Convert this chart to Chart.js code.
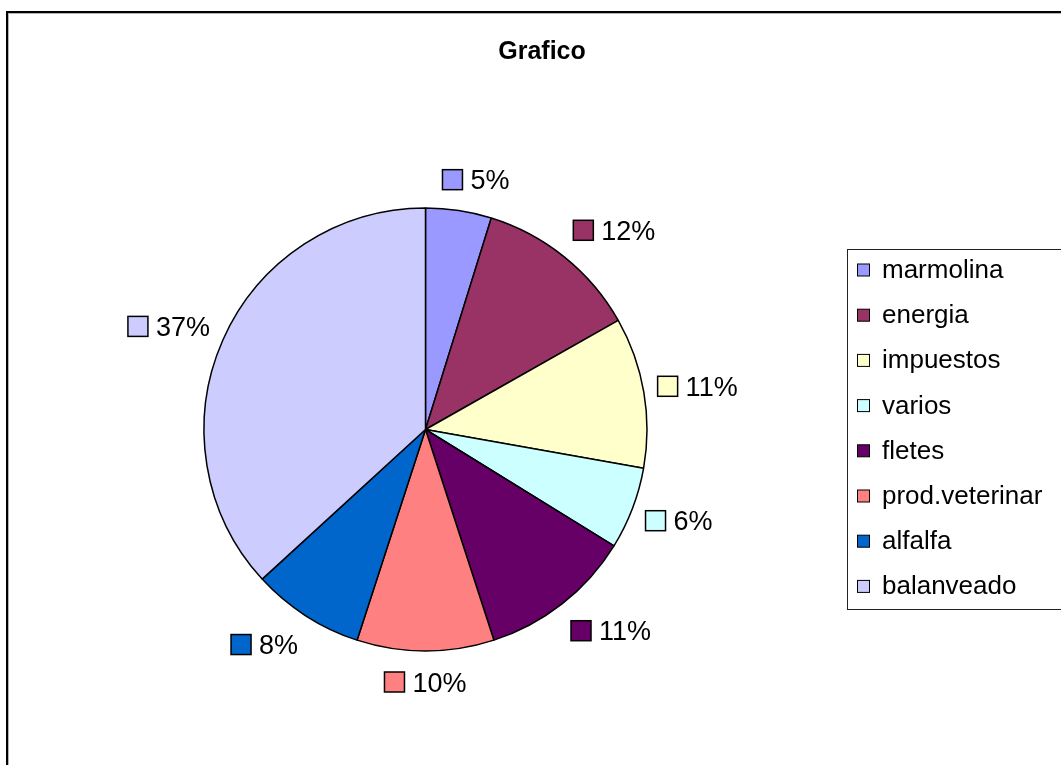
<!DOCTYPE html>
<html>
<head>
<meta charset="utf-8">
<title>Grafico</title>
<script src="https://cdn.jsdelivr.net/npm/chart.js@4.4.1/dist/chart.umd.min.js"></script>
<style>
  html, body { margin: 0; padding: 0; background: #fff; overflow: hidden; }
  #chart { display: block; }
</style>
</head>
<body>
<canvas id="chart" width="1061" height="765"></canvas>
<script>
/* ── Data ─────────────────────────────────────────── */
const categories  = ['marmolina', 'energia', 'impuestos', 'varios', 'fletes', 'prod.veterinar', 'alfalfa', 'balanveado'];
const shares      = [4.8, 12.0, 11.0, 6.0, 11.2, 10.0, 8.2, 36.8];
const sliceColors = ['#9999FF', '#993366', '#FFFFCC', '#CCFFFF', '#660066', '#FF8080', '#0066CC', '#CCCCFF'];
const chartTitle  = 'Grafico';

const FONT = '"Liberation Sans", Arial, sans-serif';
const clamp = (v, lo, hi) => Math.max(lo, Math.min(hi, v));

/* ── Frame + title (Excel style chart area) ───────── */
const framePlugin = {
  id: 'frame',
  beforeDraw(chart) {
    const ctx = chart.ctx;
    ctx.save();
    ctx.fillStyle = '#fff';
    ctx.fillRect(0, 0, chart.width, chart.height);
    ctx.strokeStyle = '#b4b4b4';
    ctx.lineWidth = 1;
    ctx.strokeRect(8.5, 13.5, chart.width + 50, chart.height + 50);
    ctx.strokeStyle = '#000';
    ctx.lineWidth = 2;
    ctx.strokeRect(7, 12, chart.width + 50, chart.height + 50);

    ctx.fillStyle = '#000';
    ctx.font = 'bold 25px ' + FONT;
    ctx.textAlign = 'center';
    ctx.textBaseline = 'alphabetic';
    ctx.fillText(chartTitle, 542, 59);
    ctx.restore();
  }
};

/* ── Percent labels with colour keys outside the pie ─ */
const outsideLabels = {
  id: 'outsideLabels',
  afterDatasetsDraw(chart) {
    const ctx = chart.ctx;
    const meta = chart.getDatasetMeta(0);
    const values = chart.data.datasets[0].data;
    const total = values.reduce((a, b) => a + b, 0);
    const gap = 14, key = 20, keyGap = 8, halfH = 17;

    ctx.save();
    ctx.font = '27px ' + FONT;
    ctx.textBaseline = 'alphabetic';
    ctx.textAlign = 'left';
    meta.data.forEach((arc, i) => {
      const p = arc.getProps(['x', 'y', 'startAngle', 'endAngle', 'outerRadius'], true);
      const mid = (p.startAngle + p.endAngle) / 2;
      const ux = Math.cos(mid), uy = Math.sin(mid);
      const text = Math.round(values[i] / total * 100) + '%';
      const w = key + keyGap + ctx.measureText(text).width;
      // anchor just outside the rim, box pushed away from the pie
      const cx = p.x + ux * (p.outerRadius + gap) + clamp(ux * 3, -1, 1) * w / 2;
      const cy = p.y + uy * (p.outerRadius + gap) + clamp(uy * 1.2, -1, 1) * halfH;
      const left = cx - w / 2;

      ctx.fillStyle = sliceColors[i];
      ctx.fillRect(left, cy - key / 2, key, key);
      ctx.strokeStyle = '#000';
      ctx.lineWidth = 1.5;
      ctx.strokeRect(left, cy - key / 2, key, key);

      ctx.fillStyle = '#000';
      ctx.fillText(text, left + key + keyGap, cy + 9.5);
    });
    ctx.restore();
  }
};

/* ── Boxed legend on the right ────────────────────── */
const boxLegend = {
  id: 'boxLegend',
  afterDraw(chart) {
    const ctx = chart.ctx;
    const labels = chart.data.labels;
    const x0 = 847.5, y0 = 249.5, y1 = 609.5;
    const firstRow = 270, rowStep = 45.2;

    ctx.save();
    ctx.strokeStyle = '#222';
    ctx.lineWidth = 1;
    ctx.strokeRect(x0, y0, chart.width, y1 - y0);

    ctx.font = '26px ' + FONT;
    ctx.textBaseline = 'alphabetic';
    ctx.textAlign = 'left';
    labels.forEach((lab, i) => {
      const y = firstRow + i * rowStep;
      ctx.fillStyle = sliceColors[i];
      ctx.fillRect(857.5, y - 6, 12, 12);
      ctx.strokeStyle = '#000';
      ctx.strokeRect(857.5, y - 6, 12, 12);
      ctx.fillStyle = '#000';
      ctx.fillText(lab, 882, y + 8);
    });
    ctx.restore();
  }
};

new Chart(document.getElementById('chart'), {
  type: 'pie',
  data: {
    labels: categories,
    datasets: [{
      data: shares,
      backgroundColor: sliceColors,
      borderColor: '#000',
      borderWidth: 1.5,
      radius: 221.5,
    }]
  },
  options: {
    responsive: false,
    animation: false,
    devicePixelRatio: 1,
    layout: { padding: { left: 200.5, right: 410.5, top: 204.5, bottom: 110.5 } },
    plugins: {
      legend: { display: false },
      title: { display: false },
      tooltip: { enabled: false },
    },
  },
  plugins: [framePlugin, outsideLabels, boxLegend],
});
</script>
</body>
</html>
